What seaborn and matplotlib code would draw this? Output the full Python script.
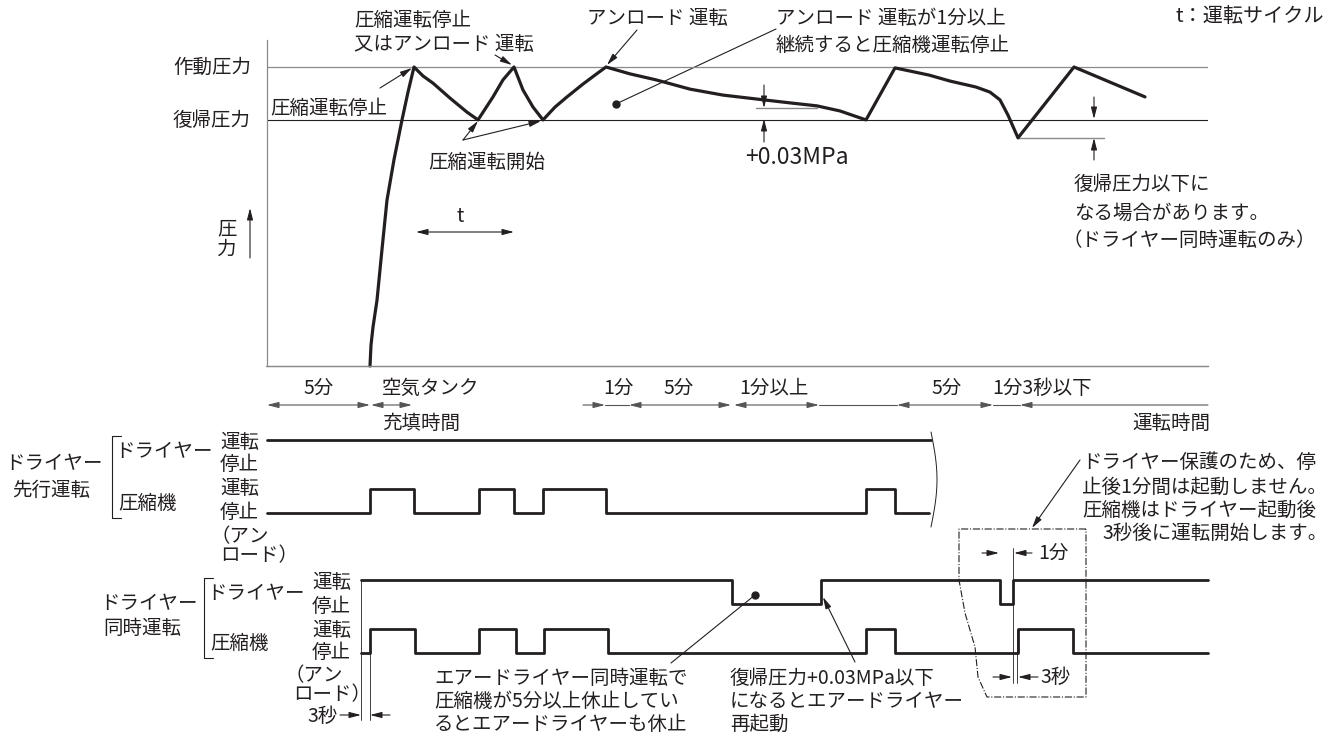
import numpy as np
import matplotlib
matplotlib.use("Agg")
import matplotlib.pyplot as plt
import seaborn as sns

# time in minutes (0 = left edge of the chart), pressure scaled so 作動圧力 = 1.0
work_p = 1.0
return_p = 0.823
return_plus = 0.863
drop_min = 0.763

press_t = [5.15, 5.2, 5.3, 5.5, 5.75, 6.0, 6.35, 6.75, 7.05, 7.35,
           7.8, 8.3, 9.15, 10.0, 10.55, 11.3, 11.8, 12.35, 12.8, 13.3, 13.8,
           14.4, 15.0, 15.8, 16.4, 16.95, 18.15, 19.45, 21.15, 22.8, 24.85,
           26.15, 27.5, 28.65, 29.95, 31.4, 33.1, 34.15, 35.45, 36.15, 36.65,
           37.05, 37.55, 40.35, 43.9]
press_v = [0.0, 0.07, 0.13, 0.22, 0.39, 0.555, 0.69, 0.823, 0.916, 1.0,
           0.97, 0.946, 0.896, 0.849, 0.823, 0.9, 0.957, 1.0, 0.923, 0.866, 0.823,
           0.866, 0.9, 0.943, 0.973, 1.0, 0.977, 0.957, 0.926, 0.906, 0.89,
           0.88, 0.87, 0.853, 0.823, 0.997, 0.973, 0.953, 0.933, 0.916, 0.89,
           0.839, 0.763, 1.0, 0.9]

# ドライヤー先行運転 (levels: 0 stop, 1 run; dryer drawn 2 units higher)
lead_dry_t = [0, 33.2]
lead_dry_v = [1, 1]
lead_cmp_t = [0, 5.15, 7.35, 10.6, 12.35, 13.8, 16.95, 29.95, 31.4, 33.1]
lead_cmp_v = [0, 1, 0, 1, 0, 1, 0, 1, 0, 0]

# ドライヤー同時運転
sim_dry_t = [4.7, 23.25, 27.7, 36.65, 37.3, 47.05]
sim_dry_v = [1, 0, 1, 0, 1, 1]
sim_cmp_t = [4.7, 5.15, 7.4, 10.6, 12.45, 13.85, 17.05, 29.95, 31.4, 37.55, 40.3, 47.05]
sim_cmp_v = [0, 1, 0, 1, 0, 1, 0, 1, 0, 1, 0, 0]

t_end = 47.05

sns.set_theme(style="white")
plt.rcParams['font.family'] = ['Noto Sans CJK JP', 'DejaVu Sans']

W, H = 1337, 738
fig = plt.figure(figsize=(W / 100, H / 100), dpi=100)
ink = '#231f20'
gray = '#8a8a8a'
fs = 14

base = fig.add_axes([0, 0, 1, 1])
base.set_xlim(0, W)
base.set_ylim(H, 0)
base.axis('off')


def box(x0, y0, x1, y1):
    a = fig.add_axes([x0 / W, 1 - y1 / H, (x1 - x0) / W, (y1 - y0) / H])
    a.patch.set_alpha(0)
    return a


def txt(x, y, s, **kw):
    base.text(x, y, s, fontsize=kw.pop('size', fs), color=ink, ha=kw.pop('ha', 'left'),
              va='center', **kw)


def arr(x0, y0, x1, y1, style='-|>', lw=0.8, color=ink):
    if style != '-':
        style = style + ',head_length=0.7,head_width=0.18'
    base.annotate('', xy=(x1, y1), xytext=(x0, y0),
                  arrowprops=dict(arrowstyle=style, color=color, lw=lw,
                                  mutation_scale=10, shrinkA=0, shrinkB=0))


# ---- pressure chart
axp = box(267, 40, 1208, 366)
axp.set_xlim(0, t_end)
axp.set_ylim(0, 326 / 299)
for s in ['top', 'right']:
    axp.spines[s].set_visible(False)
for s in ['left', 'bottom']:
    axp.spines[s].set_color(gray)
    axp.spines[s].set_linewidth(0.9)
axp.set_xticks([])
axp.set_yticks([])
axp.axhline(work_p, color=gray, lw=0.9)
axp.axhline(return_p, color=ink, lw=0.8)
axp.plot([24.45, 27.5], [return_plus, return_plus], color=gray, lw=1.0)
axp.plot([37.55, 41.85], [drop_min, drop_min], color=gray, lw=1.0)
sns.lineplot(x=press_t, y=press_v, sort=False, estimator=None, color=ink, lw=2.3,
             ax=axp, clip_on=False)
axp.set_xlabel('')
axp.set_ylabel('')

# ---- timing charts
for (y_top, y_bot, dt, dv, ct, cv) in [(439.5, 513, lead_dry_t, lead_dry_v, lead_cmp_t, lead_cmp_v),
                                        (579.5, 653, sim_dry_t, sim_dry_v, sim_cmp_t, sim_cmp_v)]:
    a = box(267, y_top, 1208, y_bot)
    a.set_xlim(0, t_end)
    a.set_ylim(0, 3)
    a.axis('off')
    sns.lineplot(x=dt, y=np.array(dv) + 2, drawstyle='steps-post', sort=False,
                 estimator=None, color=ink, lw=2.0, ax=a, clip_on=False)
    sns.lineplot(x=ct, y=cv, drawstyle='steps-post', sort=False,
                 estimator=None, color=ink, lw=2.0, ax=a, clip_on=False)

# ---- texts: pressure chart
txt(173, 67, '作動圧力')
txt(173, 120, '復帰圧力')
txt(354, 20, '圧縮運転停止')
txt(354, 44, '又はアンロード 運転')
txt(270, 108, '圧縮運転停止')
txt(428, 162, '圧縮運転開始')
txt(587, 19, 'アンロード 運転')
txt(776, 19, 'アンロード 運転が1分以上')
txt(776, 45, '継続すると圧縮機運転停止')
txt(1176, 17, 't：運転サイクル', size=14.5)
txt(745, 157, '+0.03MPa', size=16.5)
txt(1074, 185, '復帰圧力以下に')
txt(1074, 213, 'なる場合があります。')
txt(1062, 241, '（ドライヤー同時運転のみ）')
txt(227, 229, '圧', ha='center')
txt(227, 249, '力', ha='center')
txt(460, 216, 't', ha='center')

arr(250, 258, 250, 208)
arr(416, 232, 514, 232, '<|-|>')
arr(380, 88, 412, 68)
arr(495, 55, 512, 65)
arr(463, 140, 478, 121)
arr(463, 140, 541, 121)
arr(637, 30, 607, 65)
arr(776, 29, 618, 103, '-')
base.plot([616], [104], 'o', color=ink, ms=5)

# +0.03MPa dimension
arr(764, 85, 764, 108)
arr(764, 142, 764, 119)
# below return pressure dimension
arr(1094, 97, 1094, 119)
arr(1094, 160, 1094, 138)

# ---- time row
base.plot([266, 1208], [366, 366], color=gray, lw=0.9)
arr(267, 405, 370, 405, '<|-|>', color='#555555')
arr(371, 405, 412, 405, '<|-|>', color='#555555')
arr(583, 405, 605, 405, '-|>', color='#555555')
base.plot([605, 629], [405, 405], color='#555555', lw=0.8)
arr(629, 405, 731, 405, '<|-|>', color='#555555')
arr(734, 405, 819, 405, '<|-|>', color='#555555')
base.plot([819, 897], [405, 405], color='#555555', lw=0.8)
arr(897, 405, 993, 405, '<|-|>', color='#555555')
base.plot([993, 1020], [405, 405], color='#555555', lw=0.8)
arr(1208, 405, 1020, 405, '-|>', color='#555555')

txt(304, 388, '5分')
txt(382, 388, '空気タンク')
txt(382, 423, '充填時間')
txt(603, 388, '1分')
txt(663, 388, '5分')
txt(739, 388, '1分以上')
txt(932, 388, '5分')
txt(992, 388, '1分3秒以下')
txt(1132, 423, '運転時間')

# ---- left labels, upper
txt(5, 464, 'ドライヤー')
txt(12, 490, '先行運転')
base.plot([121, 112, 112, 121], [436, 436, 518, 518], color=ink, lw=0.8)
txt(115, 452, 'ドライヤー')
txt(118, 503, '圧縮機')
for yy, s in [(442, '運転'), (465, '停止'), (488, '運転'), (513, '停止')]:
    txt(220, yy, s)
txt(210, 537, '（アン')
txt(220, 556, 'ロード）')
# break mark
brk_y = np.linspace(432, 527, 20)
base.plot(931 + 6 * np.sin((brk_y - 432) / 95 * np.pi), brk_y, color=ink, lw=0.7)

# ---- left labels, lower
txt(100, 603, 'ドライヤー')
txt(103, 629, '同時運転')
base.plot([213, 204, 204, 213], [578, 578, 658, 658], color=ink, lw=0.8)
txt(207, 593, 'ドライヤー')
txt(210, 643, '圧縮機')
for yy, s in [(583, '運転'), (606, '停止'), (630, '運転'), (653, '停止')]:
    txt(312, yy, s)
txt(285, 676, '（アン')
txt(293, 695, 'ロード）')
txt(307, 716, '3秒')
base.plot([361, 361], [579, 720], color=ink, lw=0.6)
base.plot([370, 370], [630, 720], color=ink, lw=0.6)
arr(340, 715, 361, 715)
arr(390, 715, 370, 715)

# notes under lower chart
base.plot([755], [595], 'o', color=ink, ms=5)
arr(755, 595, 671, 663, '-')
txt(434, 678, 'エアードライヤー同時運転で')
txt(434, 701, '圧縮機が5分以上休止してい')
txt(434, 724, 'るとエアードライヤーも休止')
arr(855, 662, 823, 597)
txt(730, 678, '復帰圧力+0.03MPa以下')
txt(730, 701, 'になるとエアードライヤー')
txt(730, 724, '再起動')

# dryer protection detail
base.plot([1013, 1013], [548, 683], color=ink, lw=0.6)
base.plot([1017, 1017], [630, 683], color=ink, lw=0.6)
arr(982, 553, 999, 553)
arr(1032, 553, 1014, 553)
txt(1038, 553, '1分')
arr(993, 677, 1012, 677)
arr(1038, 677, 1018, 677)
txt(1040, 677, '3秒')
bx = [1086, 959, 959, 965, 975, 978, 987, 1086, 1086]
by = [529, 529, 580, 613, 647, 677, 697, 697, 529]
base.plot(bx, by, color=ink, lw=0.8, ls='-.')
arr(1080, 460, 1032, 528)
txt(1082, 463, 'ドライヤー保護のため、停')
txt(1082, 487, '止後1分間は起動しません。')
txt(1082, 510, '圧縮機はドライヤー起動後')
txt(1102, 533, '3秒後に運転開始します。')

fig.savefig('out.png', dpi=100)
